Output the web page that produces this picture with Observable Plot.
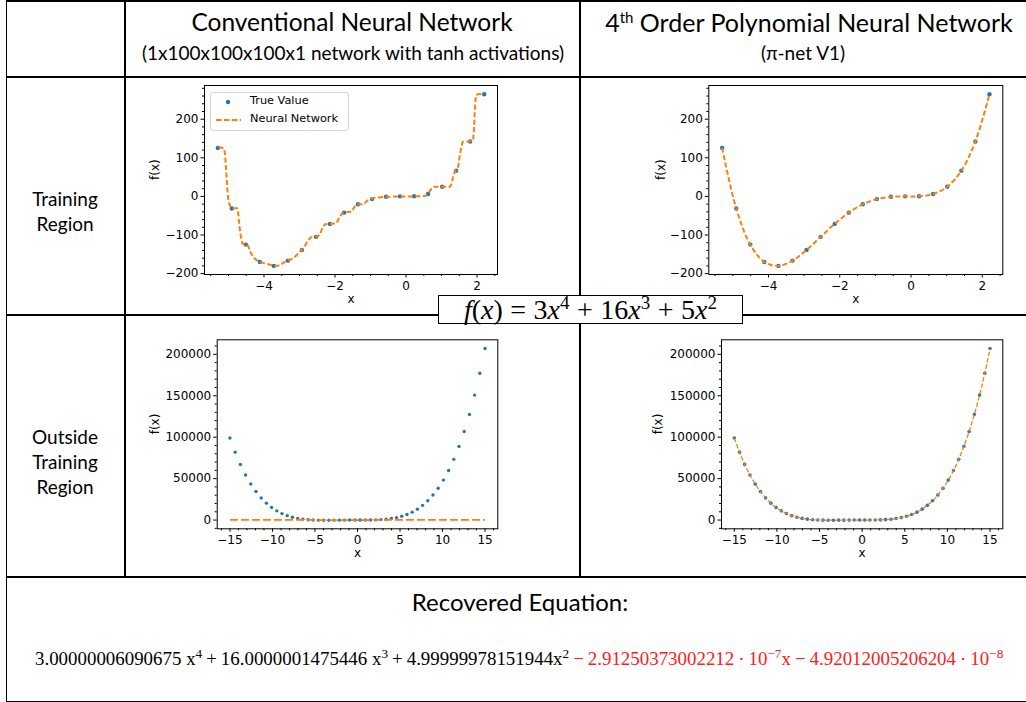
<!DOCTYPE html>
<html><head><meta charset="utf-8">
<script src="https://cdn.jsdelivr.net/npm/d3@7"></script>
<script src="https://cdn.jsdelivr.net/npm/@observablehq/plot@0.6"></script>
<style>
body{margin:0;background:#fff;}
#wrap{position:relative;width:1026px;height:702px;overflow:hidden;background:#fff;font-family:Lato,"Open Sans",sans-serif;color:#000;}
.ln{position:absolute;background:#000;z-index:5;}
.t{position:absolute;white-space:nowrap;text-align:center;transform:translate(-50%,-50%);line-height:1.3;}
.p{position:absolute;z-index:2;}
.p svg{overflow:visible;display:block;}
sup{font-size:0.6em;vertical-align:0.6em;line-height:0;}
#legend{position:absolute;left:210px;top:92px;width:137px;height:37px;border:1px solid #d4d4d4;border-radius:3px;background:rgba(255,255,255,0.85);z-index:4;font-family:"DejaVu Sans",sans-serif;font-size:11.3px;}
#eqbox{position:absolute;left:438px;top:295px;width:303px;height:27px;border:1.5px solid #000;background:#fff;z-index:7;text-align:center;font-family:"Liberation Serif",serif;font-size:28px;line-height:27px;}
#eqbox .op{margin:0 7.5px;}
#eqbox sup{font-size:0.68em;vertical-align:0.55em;}
#recov{position:absolute;left:35px;top:659px;transform:translateY(-50%);white-space:nowrap;font-family:"Liberation Serif",serif;font-size:18.9px;}
#recov .op{margin:0 4px;}
#recov sup{font-size:0.7em;vertical-align:0.5em;}
.red{color:#ff2020;}
</style></head><body>
<div id="wrap">
  <!-- table lines -->
  <div class="ln" style="left:6px;top:0;width:1020px;height:1.5px"></div>
  <div class="ln" style="left:5.5px;top:0;width:1.5px;height:702px"></div>
  <div class="ln" style="left:6px;top:700.5px;width:1020px;height:1.5px"></div>
  <div class="ln" style="left:124px;top:0;width:1.5px;height:577px"></div>
  <div class="ln" style="left:579px;top:0;width:1.5px;height:577px"></div>
  <div class="ln" style="left:6px;top:76px;width:1020px;height:1.8px"></div>
  <div class="ln" style="left:6px;top:314px;width:1020px;height:1.8px"></div>
  <div class="ln" style="left:6px;top:576px;width:1020px;height:2px"></div>

  <div class="t" style="left:352px;top:22px;font-size:24.5px">Conventional Neural Network</div>
  <div class="t" style="left:353px;top:53px;font-size:19px">(1x100x100x100x1 network with tanh activations)</div>
  <div class="t" style="left:809px;top:22px;font-size:25px">4<sup>th</sup> Order Polynomial Neural Network</div>
  <div class="t" style="left:803px;top:53px;font-size:19px">(π-net V1)</div>
  <div class="t" style="left:65px;top:211px;font-size:19px;line-height:25px">Training<br>Region</div>
  <div class="t" style="left:65px;top:461px;font-size:19px;line-height:25px">Outside<br>Training<br>Region</div>
  <div class="t" style="left:520px;top:602px;font-size:24px">Recovered Equation:</div>

  <div id="eqbox"><i>f</i>(<i>x</i>)<span class="op">=</span>3<i>x</i><sup>4</sup><span class="op">+</span>16<i>x</i><sup>3</sup><span class="op">+</span>5<i>x</i><sup>2</sup></div>

  <div id="recov">3.00000006090675 x<sup>4</sup><span class="op">+</span>16.0000001475446 x<sup>3</sup><span class="op">+</span>4.99999978151944x<sup>2</sup><span class="red"><span class="op">−</span>2.91250373002212<span class="op">·</span>10<sup>−7</sup>x<span class="op">−</span>4.92012005206204<span class="op">·</span>10<sup>−8</sup></span></div>

  <div id="p1" class="p" style="left:140px;top:80px"></div>
  <div id="p2" class="p" style="left:640px;top:80px"></div>
  <div id="p3" class="p" style="left:140px;top:330px"></div>
  <div id="p4" class="p" style="left:640px;top:330px"></div>

  <div id="legend">
    <svg width="137" height="37" style="position:absolute;left:0;top:0">
      <circle cx="17" cy="9" r="2.2" fill="#1f77b4"></circle>
      <line x1="5" x2="30" y1="27" y2="27" stroke="#ff7f0e" stroke-width="1.8" stroke-dasharray="5.5,2.4"></line>
    </svg>
    <div style="position:absolute;left:39px;top:1px">True Value</div>
    <div style="position:absolute;left:39px;top:19px">Neural Network</div>
  </div>
</div>
<script>
// ---- Data: training region (x in [-5.3, 2.2]) ----
const trainX = [-5.3, -4.905, -4.511, -4.116, -3.721, -3.326, -2.932, -2.537, -2.142, -1.747, -1.353, -0.958, -0.563, -0.168, 0.226, 0.621, 1.016, 1.411, 1.805, 2.2];
const trainTrue = [125.6, -31.3, -124.8, -170.0, -180.0, -166.3, -138.6, -104.8, -71.2, -42.1, -20.4, -7.0, -1.0, 0.1, 0.4, 6.2, 25.1, 66.7, 142.3, 264.8];
// conventional NN prediction (staircase-like)
const nnTrainX = [-5.28, -5.12, -5.09, -5.06, -5.03, -5.00, -4.94, -4.87, -4.75, -4.72, -4.69, -4.65, -4.61, -4.49, -4.44, -4.39, -4.30, -4.16, -3.92, -3.70, -3.55, -3.46, -3.32, -3.18, -3.04, -2.92, -2.85, -2.76, -2.66, -2.48, -2.43, -2.36, -2.29, -1.96, -1.87, -1.78, -1.54, -1.45, -1.36, -1.19, -1.09, -0.95, -0.81, -0.56, -0.16, 0.23, 0.54, 0.63, 0.68, 0.77, 1.24, 1.29, 1.33, 1.40, 1.47, 1.52, 1.59, 1.80, 1.89, 1.91, 1.94, 1.97, 2.03, 2.19];
const nnTrainY = [128, 124, 102, 60, 16, -14, -27, -31, -31, -48, -79, -105, -122, -124, -129, -143, -158, -169, -175, -180, -179, -172, -165, -161, -148, -137, -129, -113, -105, -103, -100, -83, -72, -70, -53, -42, -40, -27, -20, -20, -11, -5, -3, -1, 0, 0, 1, 7, 16, 25, 25, 34, 55, 68, 77, 111, 141, 143, 146, 172, 232, 262, 265, 265];
// pi-net prediction in the training region
const piTrain = [125.6, -31.3, -124.8, -170.0, -180.0, -166.3, -138.6, -104.8, -71.2, -42.1, -20.4, -7.0, -1.0, 0.1, 0.4, 6.2, 25.1, 66.7, 142.3, 264.8];

// ---- Data: outside training region (x in [-15, 15]) ----
const outX = [-15, -14.388, -13.776, -13.163, -12.551, -11.939, -11.327, -10.714, -10.102, -9.490, -8.878, -8.265, -7.653, -7.041, -6.429, -5.816, -5.204, -4.592, -3.980, -3.367, -2.755, -2.143, -1.531, -0.918, -0.306, 0.306, 0.918, 1.531, 2.143, 2.755, 3.367, 3.980, 4.592, 5.204, 5.816, 6.429, 7.041, 7.653, 8.265, 8.878, 9.490, 10.102, 10.714, 11.327, 11.939, 12.551, 13.163, 13.776, 14.388, 15];
const outTrue = [99000, 81940, 67154, 54444, 43597, 34435, 26768, 20429, 15258, 11107, 7834, 5309, 3412, 2036, 1079, 454, 81, -110, -177, -168, -124, -71, -29, -6, 0, 1, 19, 86, 244, 545, 1053, 1840, 2988, 4591, 6751, 9581, 13205, 17756, 23377, 30223, 38455, 48247, 59788, 73265, 88890, 106867, 127430, 150805, 177247, 207000];
const nnOut = [128, 128, 128, 128, 128, 128, 128, 128, 128, 128, 128, 128, 128, 128, 128, 128, 124, -118, -176, -167, -113, -70, -40, -5, 0, 0, 25, 111, 265, 265, 265, 265, 265, 265, 265, 265, 265, 265, 265, 265, 265, 265, 265, 265, 265, 265, 265, 265, 265, 265];
const piOut = [99000, 81940, 67154, 54444, 43597, 34435, 26768, 20429, 15258, 11107, 7834, 5309, 3412, 2036, 1079, 454, 81, -110, -177, -168, -124, -71, -29, -6, 0, 1, 19, 86, 244, 545, 1053, 1840, 2988, 4591, 6751, 9581, 13205, 17756, 23377, 30223, 38455, 48247, 59788, 73265, 88890, 106867, 127430, 150805, 177247, 207000];

// ---- Tick labels ----
const trainXTicks = [-4, -2, 0, 2];
const trainYTicks = [-200, -100, 0, 100, 200];
const outXTicks = [-15, -10, -5, 0, 5, 10, 15];
const outYTicks = [0, 50000, 100000, 150000, 200000];

const BLUE = "#1f77b4", ORANGE = "#ff7f0e";
const fmt = d3.format("d");
const blank = () => "";
const minor = (lo, hi, step, majors) => d3.range(lo, hi + step / 2, step).filter(v => !majors.some(m => Math.abs(m - v) < step / 4));

function panel(id, o) {
  const chart = Plot.plot({
    width: o.w, height: o.h,
    marginLeft: o.ml, marginRight: o.mr, marginTop: o.mt, marginBottom: o.mb,
    x: {domain: o.xd},
    y: {domain: o.yd},
    style: {fontFamily: "'DejaVu Sans', sans-serif", fontSize: "12px", color: "#000", background: "transparent", overflow: "visible"},
    marks: [
      Plot.axisX({ticks: o.xMinor, tickSize: 2, tickFormat: blank, label: null}),
      Plot.axisY({ticks: o.yMinor, tickSize: 2, tickFormat: blank, label: null}),
      Plot.axisX({ticks: o.xTicks, tickSize: 3.5, tickPadding: 3, tickFormat: fmt, label: null, fontSize: 12}),
      Plot.axisY({ticks: o.yTicks, tickSize: 3.5, tickPadding: 2.5, tickFormat: fmt, label: null, fontSize: 12}),
      Plot.dot(o.px, {x: d => d, y: (d, i) => o.py[i], r: o.r, fill: BLUE, stroke: "none"}),
      Plot.line(o.lx, {x: d => d, y: (d, i) => o.ly[i], stroke: ORANGE, strokeWidth: o.lw, strokeDasharray: o.dash, strokeLinecap: "butt", curve: o.curve || "linear"}),
      Plot.frame({stroke: "#000", strokeWidth: 1}),
      Plot.text(["x"], {text: d => d, frameAnchor: "bottom", dy: o.xl, fontSize: 12}),
      Plot.text(["f(x)"], {text: d => d, frameAnchor: "left", rotate: -90, dx: -o.yl, fontSize: 12})
    ]
  });
  document.getElementById(id).append(chart);
}

const trainXMinor = minor(-5.5, 2.5, 0.5, trainXTicks);
const trainYMinor = minor(-200, 280, 20, trainYTicks);
const outXMinor = minor(-16, 16, 1, outXTicks);
const outYMinor = minor(-10000, 210000, 10000, outYTicks);

panel("p1", {w: 365, h: 232, ml: 64, mr: 8, mt: 5, mb: 38,
  xd: [-5.675, 2.575], yd: [-202.3, 287.3],
  xTicks: trainXTicks, yTicks: trainYTicks, xMinor: trainXMinor, yMinor: trainYMinor,
  px: trainX, py: trainTrue, r: 2.2, lx: nnTrainX, ly: nnTrainY, lw: 2, dash: "5,2.5", xl: 28, yl: 49});
panel("p2", {w: 370, h: 232, ml: 68.3, mr: 7.7, mt: 5, mb: 38,
  xd: [-5.675, 2.575], yd: [-202.3, 287.3],
  xTicks: trainXTicks, yTicks: trainYTicks, xMinor: trainXMinor, yMinor: trainYMinor,
  px: trainX, py: trainTrue, r: 2.2, lx: trainX, ly: piTrain, lw: 2, dash: "5,2.5", curve: "catmull-rom", xl: 28, yl: 48});
panel("p3", {w: 365, h: 240, ml: 76.7, mr: 7.7, mt: 9.3, mb: 41.7,
  xd: [-16.5, 16.5], yd: [-10536, 217536],
  xTicks: outXTicks, yTicks: outYTicks, xMinor: outXMinor, yMinor: outYMinor,
  px: outX, py: outTrue, r: 1.7, lx: outX, ly: nnOut, lw: 1.8, dash: "8,3", xl: 27.7, yl: 62});
panel("p4", {w: 370, h: 240, ml: 81, mr: 7.7, mt: 9.3, mb: 41.7,
  xd: [-16.5, 16.5], yd: [-10536, 217536],
  xTicks: outXTicks, yTicks: outYTicks, xMinor: outXMinor, yMinor: outYMinor,
  px: outX, py: outTrue, r: 1.8, lx: outX, ly: piOut, lw: 1.3, dash: "4.5,2", curve: "catmull-rom", xl: 27.7, yl: 63});
</script>
</body></html>
